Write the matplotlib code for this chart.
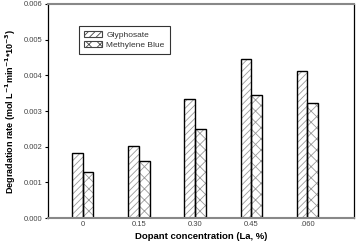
import numpy as np
import matplotlib
matplotlib.use('Agg')
import matplotlib.pyplot as plt
from matplotlib.patches import Patch

#Data.
categories = ['0', '0.15', '0.30', '0.45', '.060']
glyphosate = [0.00183, 0.00203, 0.00333, 0.00446, 0.00413]
methylene_blue = [0.00129, 0.00161, 0.00249, 0.00346, 0.00323]
yticks = [0.000, 0.001, 0.002, 0.003, 0.004, 0.005, 0.006]

plt.rcParams['font.family'] = ['Liberation Sans', 'DejaVu Sans']
plt.rcParams['hatch.linewidth'] = 0.6

fig = plt.figure(figsize=(3.57, 2.45), dpi=100)
ax = fig.add_axes([48/357, 27/245, 306/357, 214/245])

x = np.arange(len(categories))
w = 0.19
#Hatch drawn in grey, outline drawn in black on top.
ax.bar(x - w/2, glyphosate, w, color='white', edgecolor='#999999', hatch='/////', linewidth=0)
ax.bar(x + w/2, methylene_blue, w, color='white', edgecolor='#999999', hatch='xxx', linewidth=0)
ax.bar(x - w/2, glyphosate, w, fill=False, edgecolor='black', linewidth=1.0)
ax.bar(x + w/2, methylene_blue, w, fill=False, edgecolor='black', linewidth=1.0)

#Legend handles
handles = [Patch(facecolor='white', edgecolor='#444444', hatch='/////', linewidth=0.8),
           Patch(facecolor='white', edgecolor='#444444', hatch='xxx', linewidth=0.8)]
leg = ax.legend(handles, ['Glyphosate', 'Methylene Blue'], loc='upper left',
                bbox_to_anchor=(0.087, 0.915), fontsize=6, frameon=True, fancybox=False,
                edgecolor='black', handlelength=2.2, handleheight=0.7, handletextpad=0.5,
                borderpad=0.6, labelspacing=0.2)
leg.get_frame().set_linewidth(0.8)
for t in leg.get_texts():
    t.set_color('#333333')

ax.set_xlim(-0.62, 4.83)
ax.set_ylim(0, 0.006)
ax.set_xticks(x)
ax.set_xticklabels(categories)
ax.set_yticks(yticks)
ax.set_yticklabels(['%.3f' % v for v in yticks])
ax.tick_params(axis='x', length=0, labelsize=5.5, labelcolor='#444444', pad=2)
ax.tick_params(axis='y', length=2.5, width=0.8, labelsize=5.5, labelcolor='#444444', pad=1.5)

ax.spines['left'].set_color('black')
ax.spines['right'].set_color('black')
ax.spines['top'].set_color('#888888')
ax.spines['bottom'].set_color('#888888')
ax.spines['top'].set_linewidth(1.5)
ax.spines['bottom'].set_linewidth(1.5)
ax.spines['left'].set_linewidth(0.9)
ax.spines['right'].set_linewidth(0.9)

ax.set_xlabel('Dopant concentration (La, %)', fontsize=6.8, fontweight='bold', labelpad=3)
ax.set_ylabel('Degradation rate (mol L$^{\\mathbf{-1}}$min$^{\\mathbf{-1}}$*10$^{\\mathbf{-3}}$)',
              fontsize=6.5, fontweight='bold', labelpad=4)

fig.savefig('out.png', dpi=100)
